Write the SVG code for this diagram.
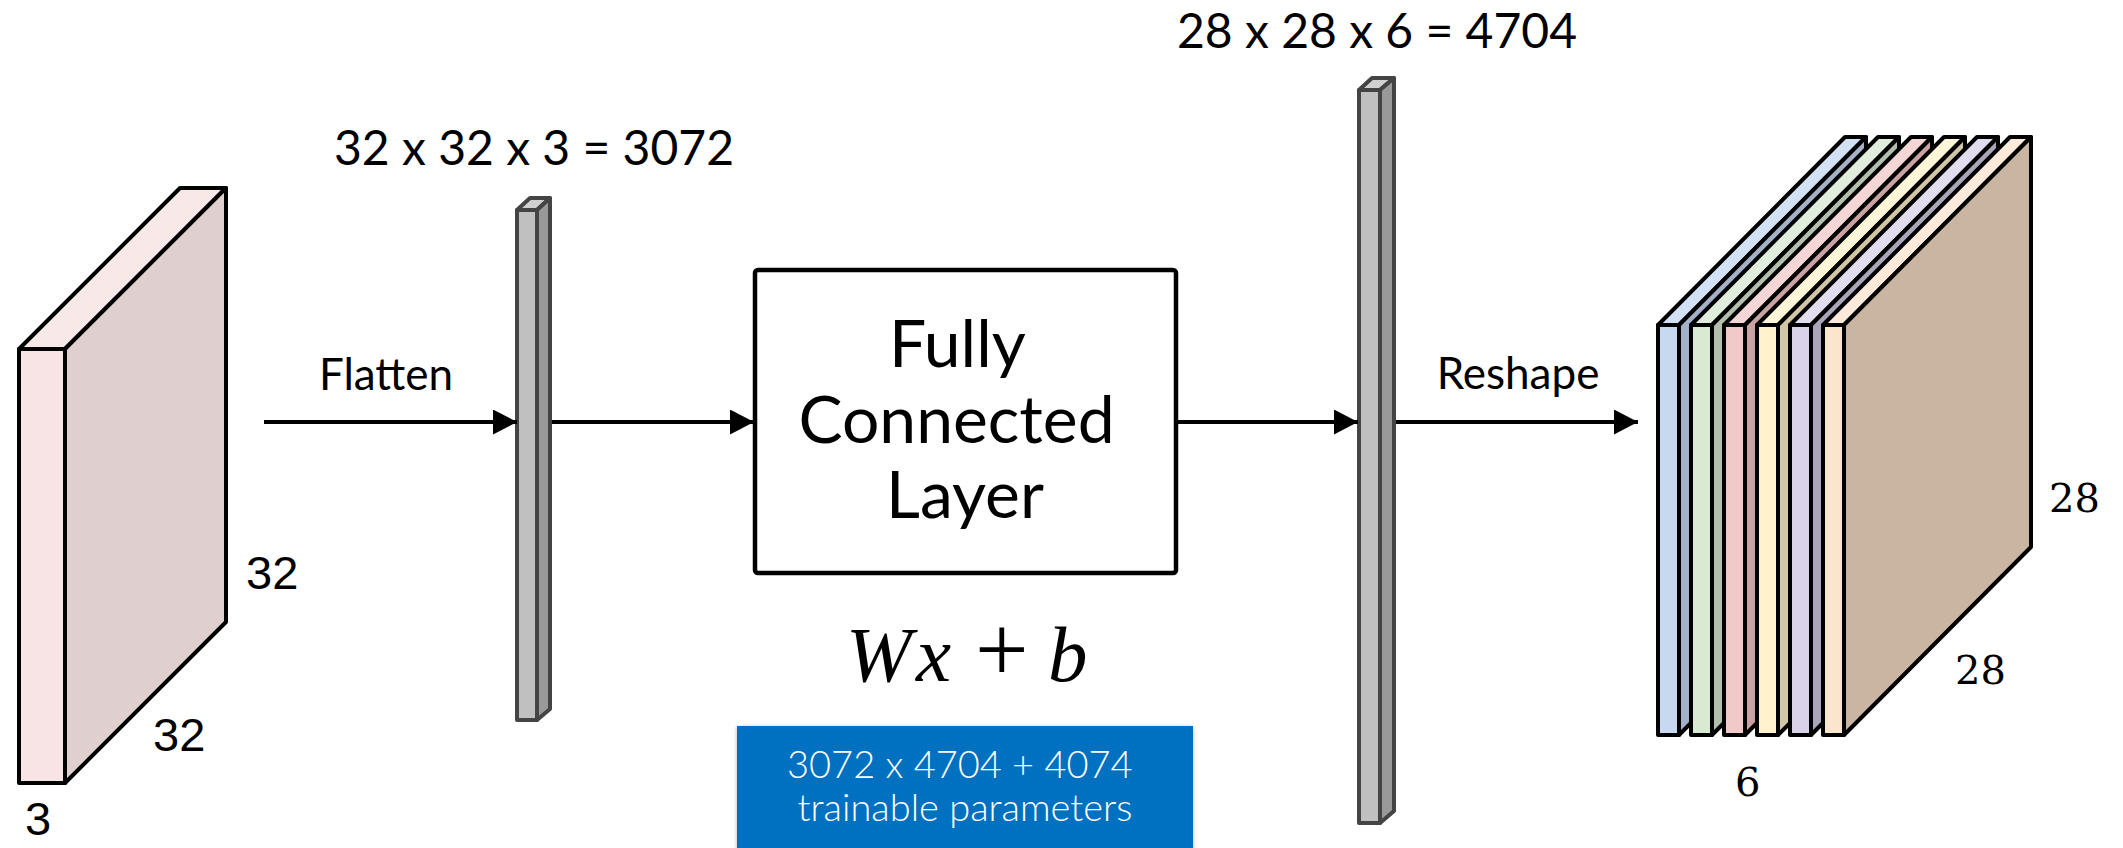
<svg xmlns="http://www.w3.org/2000/svg" width="2123" height="848" viewBox="0 0 2123 848">
<defs>
<style>
.stk{stroke:#000;stroke-width:4;stroke-linejoin:round}
.bar{stroke:#444;stroke-width:4;stroke-linejoin:round}
.lbl{font-family:Lato,"Liberation Sans",sans-serif;fill:#000}
.ar{font-family:"Liberation Sans",Arial,sans-serif;font-size:47px;fill:#000}
.dv{font-family:"DejaVu Serif",serif;font-size:40px;fill:#000}
.conn{stroke:#000;stroke-width:4;fill:none}
.math{font-family:"Liberation Serif","Times New Roman",serif;font-size:79px;fill:#000}
</style>
<marker id="ah" markerUnits="userSpaceOnUse" markerWidth="26" markerHeight="26" refX="24" refY="12.5" orient="auto">
<path d="M0,0 L24,12.5 L0,25 z" fill="#000"/>
</marker>
<filter id="sh" x="-5%" y="-10%" width="110%" height="130%">
<feDropShadow dx="0" dy="1" stdDeviation="2" flood-color="#000" flood-opacity="0.3"/>
</filter>
</defs>

<g id="input-volume">
<polygon class="stk" points="19,349 180,188 226,188 65,349" fill="#f9e8e8"/>
<polygon class="stk" points="65,349 226,188 226,622 65,783" fill="#dfcfcf"/>
<rect class="stk" x="19" y="349" width="46" height="434" fill="#f8e4e4"/>
<text class="ar" x="246" y="589">32</text>
<text class="ar" x="153" y="751">32</text>
<text class="ar" x="25" y="835">3</text>
</g>

<g id="flat-vector">
<polygon class="bar" points="517,210 530,198 550,198 537,210" fill="#d0d0d0"/>
<polygon class="bar" points="537,210 550,198 550,709 537,720" fill="#999"/>
<rect class="bar" x="517" y="210" width="20" height="510" fill="#c0c0c0"/>
<text class="lbl" x="534" y="165" font-size="48" text-anchor="middle">32 x 32 x 3 = 3072</text>
</g>

<g id="fc-layer">
<rect x="755" y="270" width="421" height="303" rx="3" fill="#fff" stroke="#000" stroke-width="4.5"/>
<text class="lbl" font-size="66" text-anchor="middle">
<tspan x="965" y="367">Fully</tspan>
<tspan x="965" y="443">Connected</tspan>
<tspan x="965" y="518">Layer</tspan>
</text>
<text class="math" y="681"><tspan x="846" font-style="italic">W</tspan><tspan x="916" font-style="italic">x</tspan><tspan x="975" font-size="95">+</tspan><tspan x="1048" font-style="italic">b</tspan></text>
</g>

<g id="params">
<rect x="737" y="726" width="456" height="130" fill="#0070c0" filter="url(#sh)"/>
<text class="lbl" font-size="38" font-weight="300" text-anchor="middle" style="fill:#fff">
<tspan x="965" y="778">3072 x 4704 + 4074</tspan>
<tspan x="965" y="821">trainable parameters</tspan>
</text>
</g>

<g id="out-vector">
<polygon class="bar" points="1359,90 1372,78 1394,78 1380,90" fill="#d0d0d0"/>
<polygon class="bar" points="1380,90 1394,78 1394,811 1380,823" fill="#999"/>
<rect class="bar" x="1359" y="90" width="21" height="733" fill="#c0c0c0"/>
<text class="lbl" x="1377" y="48" font-size="48" text-anchor="middle">28 x 28 x 6 = 4704</text>
</g>

<g id="output-volume">
<g>
<polygon class="stk" points="1658,325 1845,137 1866,137 1679,325" fill="#d3e1f4"/>
<polygon class="stk" points="1679,325 1866,137 1866,547 1679,735" fill="#a3b2c8"/>
<rect class="stk" x="1658" y="325" width="21" height="410" fill="#c6d9f1"/>
</g>
<g>
<polygon class="stk" points="1691,325 1878,137 1899,137 1712,325" fill="#e0eddc"/>
<polygon class="stk" points="1712,325 1899,137 1899,547 1712,735" fill="#b2bfad"/>
<rect class="stk" x="1691" y="325" width="21" height="410" fill="#d9ead3"/>
</g>
<g>
<polygon class="stk" points="1724,325 1911,137 1932,137 1745,325" fill="#f5d6d6"/>
<polygon class="stk" points="1745,325 1932,137 1932,547 1745,735" fill="#c9a3a3"/>
<rect class="stk" x="1724" y="325" width="21" height="410" fill="#f2c9c9"/>
</g>
<g>
<polygon class="stk" points="1757,325 1944,137 1965,137 1778,325" fill="#fff5d8"/>
<polygon class="stk" points="1778,325 1965,137 1965,547 1778,735" fill="#d1c6a6"/>
<rect class="stk" x="1757" y="325" width="21" height="410" fill="#fff2cc"/>
</g>
<g>
<polygon class="stk" points="1790,325 1977,137 1998,137 1811,325" fill="#e1dcee"/>
<polygon class="stk" points="1811,325 1998,137 1998,547 1811,735" fill="#aaa5b8"/>
<rect class="stk" x="1790" y="325" width="21" height="410" fill="#d9d2e9"/>
</g>
<g>
<polygon class="stk" points="1823,325 2010,137 2031,137 1844,325" fill="#fdeada"/>
<polygon class="stk" points="1844,325 2031,137 2031,547 1844,735" fill="#c9b5a2"/>
<rect class="stk" x="1823" y="325" width="21" height="410" fill="#fce5cd"/>
</g>
<text class="dv" x="2049" y="512">28</text>
<text class="dv" x="1955" y="684">28</text>
<text class="dv" x="1735" y="796">6</text>
</g>

<g id="connectors">
<line class="conn" x1="264" y1="422" x2="517" y2="422" marker-end="url(#ah)"/>
<line class="conn" x1="552" y1="422" x2="754" y2="422" marker-end="url(#ah)"/>
<line class="conn" x1="1178" y1="422" x2="1358" y2="422" marker-end="url(#ah)"/>
<line class="conn" x1="1396" y1="422" x2="1638" y2="422" marker-end="url(#ah)"/>
<text class="lbl" x="386" y="390" font-size="44" text-anchor="middle">Flatten</text>
<text class="lbl" x="1518" y="389" font-size="44" text-anchor="middle">Reshape</text>
</g>
</svg>
